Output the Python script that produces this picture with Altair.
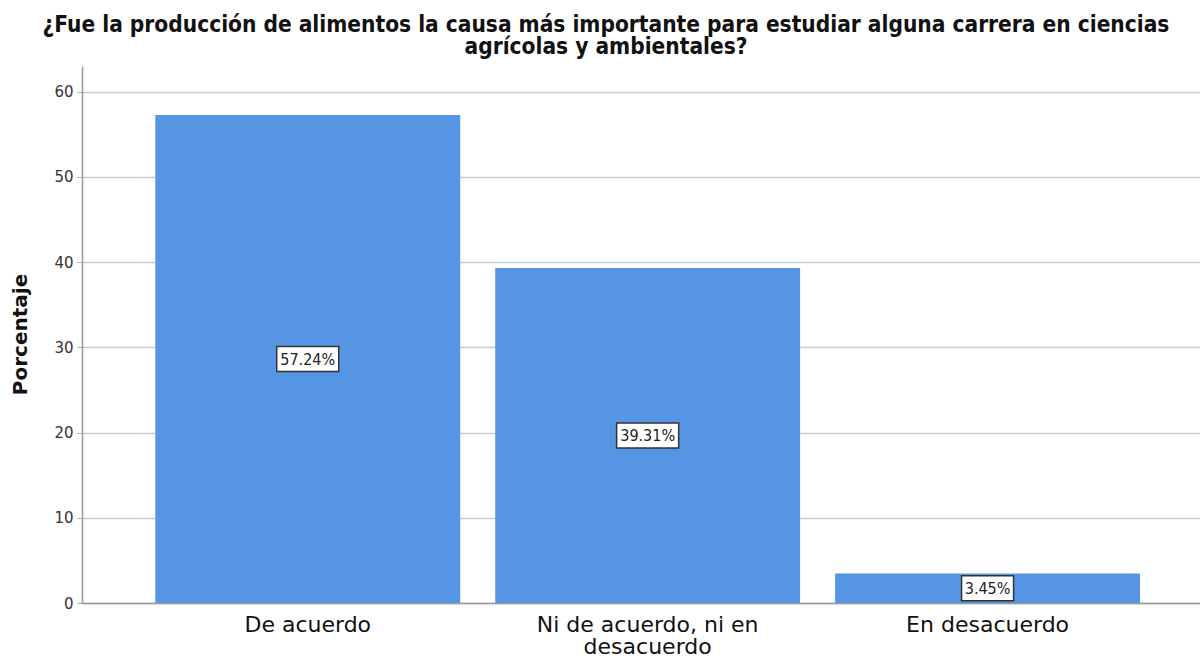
import altair as alt
import pandas as pd

# Survey answers and their share of respondents (%)
categories = ["De acuerdo", "Ni de acuerdo, ni en desacuerdo", "En desacuerdo"]
percentages = [57.24, 39.31, 3.45]
y_ticks = [0, 10, 20, 30, 40, 50, 60]

df = pd.DataFrame({"respuesta": categories, "porcentaje": percentages})

title_lines = [
    "¿Fue la producción de alimentos la causa más importante para estudiar alguna carrera en ciencias",
    "agrícolas y ambientales?",
]

bar_color = "#5595e4"
label_font = "DejaVu Sans"

x_enc = alt.X(
    "respuesta:N",
    sort=categories,
    title=None,
    scale=alt.Scale(paddingInner=0.103, paddingOuter=0.196, align=0.55),
    axis=alt.Axis(
        labelAngle=0,
        labelFontSize=22,
        labelFont=label_font,
        labelColor="#111111",
        labelPadding=11,
        labelLineHeight=22,
        labelBaseline="top",
        labelLimit=400,
        ticks=False,
        domainColor="#999999",
        domainWidth=1.5,
        labelExpr="length(datum.label) > 20 ? [slice(datum.label, 0, 20), slice(datum.label, 21)] : datum.label",
    ),
)

bars = alt.Chart(df).mark_bar(color=bar_color).encode(
    x=x_enc,
    y=alt.Y(
        "porcentaje:Q",
        title="Porcentaje",
        scale=alt.Scale(domain=[0, 63], nice=False),
        axis=alt.Axis(
            values=y_ticks,
            grid=True,
            gridColor="#cccccc",
            gridWidth=1.5,
            ticks=True,
            tickSize=5,
            tickColor="#aaaaaa",
            tickWidth=1,
            labelPadding=4,
            labelFontSize=15,
            labelFont=label_font,
            labelColor="#333333",
            domainColor="#999999",
            domainWidth=1.5,
            titleFont=label_font,
            titleFontSize=20,
            titleFontWeight="bold",
            titleColor="#111111",
            titleX=-62,
            titleY=268,
            titleBaseline="middle",
            titleAlign="center",
        ),
    ),
)

labels_base = alt.Chart(df).transform_calculate(
    mid="datum.porcentaje / 2",
    etiqueta="format(datum.porcentaje, '.2f') + '%'",
).transform_calculate(
    half_w="length(datum.etiqueta) * 5 + 1",
).transform_calculate(
    caja="'M' + (-datum.half_w) + ',-12.5L' + datum.half_w + ',-12.5L' + datum.half_w + ',12.5L' + (-datum.half_w) + ',12.5Z'",
)

boxes = labels_base.mark_point(
    filled=True, fill="white", stroke="#333333", strokeWidth=1.5, opacity=1, size=4
).encode(
    x=alt.X("respuesta:N", sort=categories),
    y=alt.Y("mid:Q"),
    shape=alt.Shape("caja:N", scale=None),
)

texts = labels_base.mark_text(
    font="DejaVu Sans Condensed", fontSize=16, color="#222222", baseline="middle", align="center", dy=1
).encode(
    x=alt.X("respuesta:N", sort=categories),
    y=alt.Y("mid:Q"),
    text="etiqueta:N",
)

chart = (
    alt.layer(bars, boxes, texts)
    .properties(
        width=1118,
        height=537,
        padding={"left": 82, "top": 66, "right": 0, "bottom": 55},
        autosize=alt.AutoSizeParams(type="none"),
        title=alt.TitleParams(
            text=title_lines,
            font="DejaVu Sans Condensed",
            fontSize=22.5,
            fontWeight="bold",
            color="#111111",
            lineHeight=22,
            anchor="middle",
            offset=8,
            dx=-35,
        ),
    )
    .configure_view(stroke=None)
)

chart.save("out.html", embed_options={"renderer": "svg", "actions": False})
